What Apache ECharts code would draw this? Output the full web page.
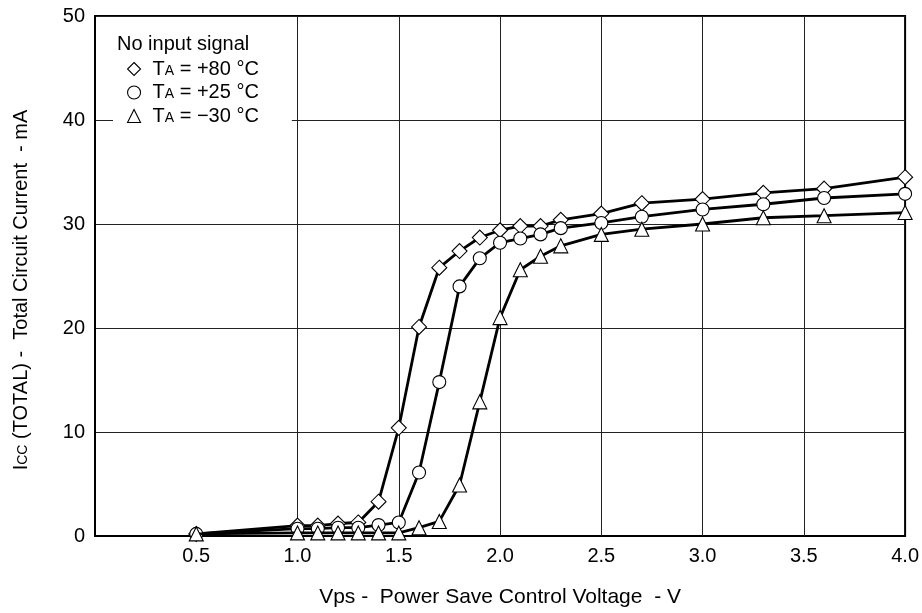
<!DOCTYPE html>
<html>
<head>
<meta charset="utf-8">
<script src="https://cdn.jsdelivr.net/npm/echarts@6/dist/echarts.min.js"></script>
<style>html,body{margin:0;padding:0;background:#fff}#c{width:922px;height:613px}</style>
</head>
<body>
<div id="c"></div>
<script>
const voltage = [0.5, 1.0, 1.1, 1.2, 1.3, 1.4, 1.5, 1.6, 1.7, 1.8, 1.9, 2.0, 2.1, 2.2, 2.3, 2.5, 2.7, 3.0, 3.3, 3.6, 4.0];
const icc80 = [0.2, 1.0, 1.0, 1.2, 1.3, 3.3, 10.4, 20.1, 25.8, 27.4, 28.7, 29.4, 29.8, 29.8, 30.4, 31.0, 32.0, 32.4, 33.0, 33.4, 34.5];
const icc25 = [0.2, 0.7, 0.7, 0.8, 0.8, 1.05, 1.3, 6.1, 14.8, 24.0, 26.7, 28.2, 28.6, 29.0, 29.6, 30.1, 30.7, 31.4, 31.9, 32.5, 32.9];
const iccM30 = [0.2, 0.3, 0.3, 0.3, 0.3, 0.3, 0.3, 0.8, 1.4, 4.9, 12.9, 21.0, 25.6, 26.9, 27.9, 29.0, 29.5, 30.0, 30.6, 30.8, 31.1];
const seriesNames = ['TA = +80 °C', 'TA = +25 °C', 'TA = \u221230 °C'];
const seriesSymbols = ['diamond', 'circle', 'triangle'];
const verticalGrid = [1.0, 1.5, 2.0, 2.5, 3.0, 3.5];
const legendTitle = 'No input signal';
const xName = 'Vps -  Power Save Control Voltage  - V';

const FONT = 'Arial, "Liberation Sans", Helvetica, sans-serif';
const FS = 20;
const chart = echarts.init(document.getElementById('c'));
const allData = [icc80, icc25, iccM30];
const sizes = [15, 13, 14];

const series = allData.map((arr, i) => ({
  name: seriesNames[i],
  type: 'line',
  data: voltage.map((v, k) => [v, arr[k]]),
  symbol: seriesSymbols[i],
  symbolSize: sizes[i],
  showAllSymbol: true,
  lineStyle: { color: '#000', width: 2.8 },
  itemStyle: { color: '#fff', borderColor: '#000', borderWidth: 1.1 },
  emphasis: { disabled: true },
  z: 3 + i,
  markLine: i === 0 ? {
    silent: true, symbol: 'none', z: 1, animation: false,
    label: { show: false },
    lineStyle: { color: '#222', width: 1, type: 'solid' },
    data: verticalGrid.map(v => ({ xAxis: v }))
  } : undefined
}));

chart.setOption({
  animation: false,
  backgroundColor: '#fff',
  title: {
    text: legendTitle, left: 112, top: 29,
    textStyle: { fontFamily: FONT, fontSize: FS, fontWeight: 'normal', color: '#000' }
  },
  legend: {
    orient: 'vertical', left: 113, top: 20,
    padding: [39, 33, 14, 14],
    backgroundColor: '#fff',
    itemWidth: 13, itemHeight: 13, itemGap: 3.5,
    data: seriesNames.map((n, i) => ({ name: n, icon: seriesSymbols[i] })),
    itemStyle: { color: '#fff', borderColor: '#000', borderWidth: 1.1 },
    formatter: function (name) {
      return '{t|T}{a|A}{t|' + name.slice(2) + '}';
    },
    textStyle: {
      fontFamily: FONT, fontSize: FS, color: '#000', padding: [0, 0, 0, 7],
      rich: {
        t: { fontFamily: FONT, fontSize: FS, color: '#000', lineHeight: 20 },
        a: { fontFamily: FONT, fontSize: 14, color: '#000', lineHeight: 20, padding: [4, 0, 0, 0] }
      }
    }
  },
  grid: { left: 95, right: 15, top: 16, bottom: 76, show: true, borderColor: '#000', borderWidth: 2 },
  xAxis: {
    type: 'value', min: 0, max: 4, interval: 0.5,
    name: xName, nameLocation: 'middle', nameGap: 51,
    nameTextStyle: { fontFamily: FONT, fontSize: 21, color: '#000' },
    axisLine: { show: true, lineStyle: { color: '#000', width: 2 } },
    axisTick: { show: false },
    splitLine: { show: false },
    axisLabel: {
      fontFamily: FONT, fontSize: FS, color: '#000', margin: 10,
      formatter: v => (v === 0 ? '' : v.toFixed(1))
    }
  },
  yAxis: {
    type: 'value', min: 0, max: 50, interval: 10,
    name: '{n|I}{s|CC}{n| (TOTAL) -  Total Circuit Current  - mA}',
    nameLocation: 'middle', nameGap: 64,
    nameTextStyle: {
      fontFamily: FONT, fontSize: FS, color: '#000', padding: [0, 28, 0, 0],
      rich: {
        n: { fontFamily: FONT, fontSize: FS, color: '#000', lineHeight: 20 },
        s: { fontFamily: FONT, fontSize: 14, color: '#000', lineHeight: 20, padding: [4, 0, 0, 0] }
      }
    },
    axisLine: { show: true, lineStyle: { color: '#000', width: 2 } },
    axisTick: { show: false },
    splitLine: { show: true, lineStyle: { color: '#222', width: 1 } },
    axisLabel: { fontFamily: FONT, fontSize: FS, color: '#000', margin: 10 }
  },
  series: series
});
</script>
</body>
</html>
